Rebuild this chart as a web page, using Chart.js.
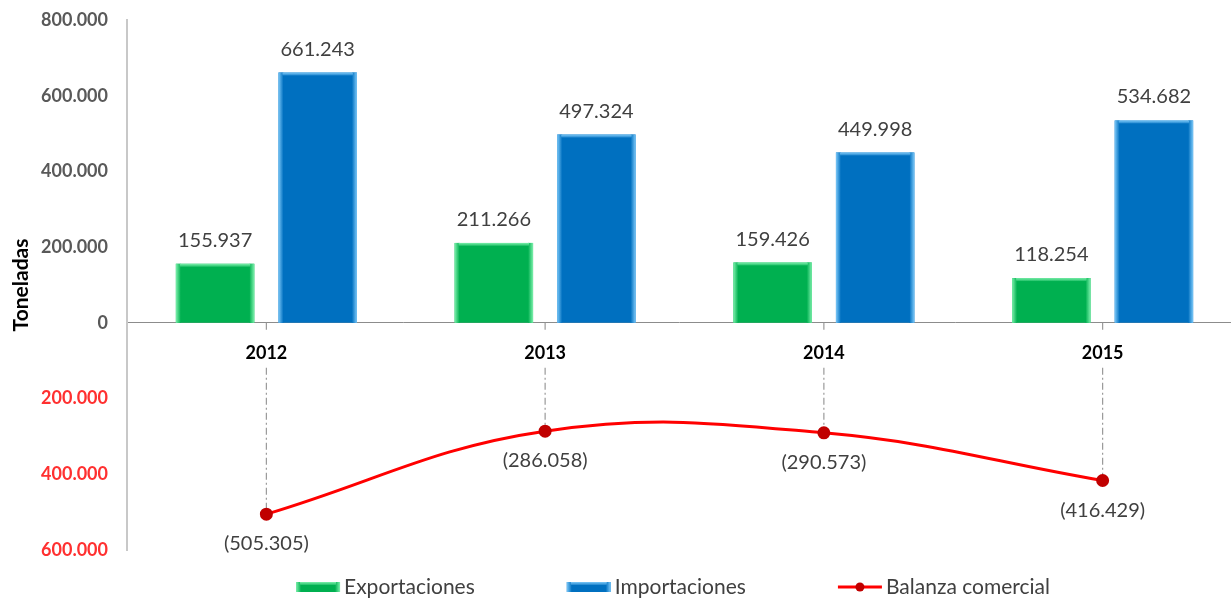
<!DOCTYPE html>
<html>
<head>
<meta charset="utf-8">
<script src="https://cdn.jsdelivr.net/npm/chart.js@4.4.1/dist/chart.umd.min.js"></script>
<style>
  html, body { margin: 0; padding: 0; background: #fff; overflow: hidden; }
  #marco { width: 1231px; height: 599px; position: relative; }
</style>
</head>
<body>
<div id="marco"><canvas id="grafico" width="1231" height="599"></canvas></div>
<script>
const anios = ['2012', '2013', '2014', '2015'];
const exportaciones = [155937, 211266, 159426, 118254];
const importaciones = [661243, 497324, 449998, 534682];
const balanza = [-505305, -286058, -290573, -416429];
const ejeMin = -600000;
const ejeMax = 800000;
const ejePaso = 200000;

function miles(n) {
    return String(Math.abs(Math.round(n))).replace(/\B(?=(\d{3})+(?!\d))/g, '.');
}

const fuente = 'Lato, "Open Sans", sans-serif';

// bisel claro en los bordes de cada barra
function bisel(ctx, x, y, w, h, claro, base) {
    let g = ctx.createLinearGradient(x, 0, x + 5, 0);
    g.addColorStop(0, claro); g.addColorStop(1, base);
    ctx.fillStyle = g; ctx.fillRect(x, y, 5, h);
    g = ctx.createLinearGradient(x + w - 5, 0, x + w, 0);
    g.addColorStop(0, base); g.addColorStop(1, claro);
    ctx.fillStyle = g; ctx.fillRect(x + w - 5, y, 5, h);
    g = ctx.createLinearGradient(0, y, 0, y + 4);
    g.addColorStop(0, claro); g.addColorStop(1, base);
    ctx.fillStyle = g; ctx.fillRect(x + 4, y, w - 8, 3);
}

const claros = ['#7df0ac', '#7cc8f8'];

const extras = {
    id: 'extras',
    afterLayout(chart) {
        // en el original el área de trazado sigue unos píxeles más allá del borde derecho
        const x = chart.scales.x;
        const extra = chart.width + 11 - x.right;
        x.right += extra;
        x.width += extra;
        chart.chartArea.right += extra;
        chart.chartArea.width += extra;
        x.configure();
    },
    beforeDatasetsDraw(chart) {
        const ctx = chart.ctx;
        const y0 = chart.scales.y.getPixelForValue(0);
        const meta = chart.getDatasetMeta(2);
        ctx.save();
        ctx.strokeStyle = '#9a9a9a';
        ctx.lineWidth = 1.2;
        ctx.setLineDash([7, 3, 2, 3]);
        meta.data.forEach(p => {
            ctx.beginPath(); ctx.moveTo(p.x, y0); ctx.lineTo(p.x, y0 + 9); ctx.stroke();
            ctx.beginPath(); ctx.moveTo(p.x, y0 + 45); ctx.lineTo(p.x, p.y); ctx.stroke();
        });
        ctx.restore();
    },
    afterDatasetDraw(chart, args) {
        if (args.index > 1) return;
        const ctx = chart.ctx;
        const ds = chart.data.datasets[args.index];
        ctx.save();
        args.meta.data.forEach(b => {
            const w = b.width;
            bisel(ctx, b.x - w / 2, b.y, w, b.base - b.y, claros[args.index], ds.backgroundColor);
        });
        ctx.restore();
    },
    afterDatasetsDraw(chart) {
        const ctx = chart.ctx;
        ctx.save();
        ctx.font = '20px ' + fuente;
        ctx.fillStyle = '#404040';
        ctx.textAlign = 'center';
        ctx.textBaseline = 'alphabetic';
        [0, 1].forEach(i => {
            chart.getDatasetMeta(i).data.forEach((b, j) => {
                ctx.fillText(miles(chart.data.datasets[i].data[j]), b.x, b.y - 17);
            });
        });
        chart.getDatasetMeta(2).data.forEach((p, j) => {
            ctx.fillText('(' + miles(chart.data.datasets[2].data[j]) + ')', p.x, p.y + 36);
        });
        ctx.restore();
    },
    afterDraw(chart) {
        // leyenda inferior
        const ctx = chart.ctx;
        const ds = chart.data.datasets;
        ctx.save();
        ctx.font = '21px ' + fuente;
        const simbolo = 44, sep = 4, hueco = 92;
        const anchos = ds.map(d => simbolo + sep + ctx.measureText(d.label).width);
        const total = anchos.reduce((a, b) => a + b, 0) + hueco * (ds.length - 1);
        let x = 673 - total / 2;
        const yc = 587;
        ds.forEach((d, i) => {
            if (d.type === 'line') {
                ctx.strokeStyle = d.borderColor; ctx.lineWidth = 3;
                ctx.beginPath(); ctx.moveTo(x, yc); ctx.lineTo(x + simbolo, yc); ctx.stroke();
                ctx.fillStyle = d.pointBackgroundColor;
                ctx.beginPath(); ctx.arc(x + simbolo / 2, yc, 4.5, 0, Math.PI * 2); ctx.fill();
            } else {
                ctx.fillStyle = d.backgroundColor;
                ctx.fillRect(x, yc - 5, simbolo, 10);
                bisel(ctx, x, yc - 5, simbolo, 10, claros[i], d.backgroundColor);
            }
            ctx.fillStyle = '#404040';
            ctx.textAlign = 'left';
            ctx.textBaseline = 'middle';
            ctx.fillText(d.label, x + simbolo + sep, yc);
            x += anchos[i] + hueco;
        });
        ctx.restore();
    }
};

new Chart(document.getElementById('grafico').getContext('2d'), {
    data: {
        labels: anios,
        datasets: [
            {
                type: 'bar',
                label: 'Exportaciones',
                data: exportaciones,
                backgroundColor: '#00b050',
                categoryPercentage: 0.736,
                barPercentage: 0.765,
                order: 1
            },
            {
                type: 'bar',
                label: 'Importaciones',
                data: importaciones,
                backgroundColor: '#0070c0',
                categoryPercentage: 0.736,
                barPercentage: 0.765,
                order: 1
            },
            {
                type: 'line',
                label: 'Balanza comercial',
                data: balanza,
                borderColor: '#ff0000',
                borderWidth: 3,
                pointRadius: 5,
                pointBackgroundColor: '#c00000',
                pointBorderColor: '#c00000',
                tension: 0.4,
                order: 0
            }
        ]
    },
    options: {
        responsive: false,
        animation: false,
        layout: { padding: { top: 20, bottom: 49, left: 0, right: 0 } },
        plugins: {
            legend: { display: false },
            tooltip: { enabled: false }
        },
        scales: {
            x: {
                position: { y: 0 },
                afterFit(scale) { scale.paddingLeft = 0; scale.paddingRight = 0; },
                grid: { display: false, drawTicks: false },
                border: { color: '#8c8c8c', width: 1 },
                ticks: {
                    color: '#000',
                    padding: 20,
                    font: { family: fuente, size: 18, weight: 'bold' }
                }
            },
            y: {
                min: ejeMin,
                max: ejeMax,
                afterFit(scale) {
                    scale.width = 127;
                    scale.paddingTop = 0;
                    scale.paddingBottom = 0;
                },
                grid: { display: false, drawTicks: false },
                border: { color: '#c8c8c8', width: 2 },
                ticks: {
                    stepSize: ejePaso,
                    padding: 19,
                    color: ctx => ctx.tick.value < 0 ? '#ff3030' : '#595959',
                    font: { family: fuente, size: 18, weight: 'bold' },
                    callback: v => miles(v)
                },
                title: {
                    display: true,
                    text: 'Toneladas',
                    color: '#000',
                    padding: { top: 9, bottom: 0 },
                    font: { family: fuente, size: 21, weight: 'bold' }
                }
            }
        }
    },
    plugins: [extras]
});
</script>
</body>
</html>
